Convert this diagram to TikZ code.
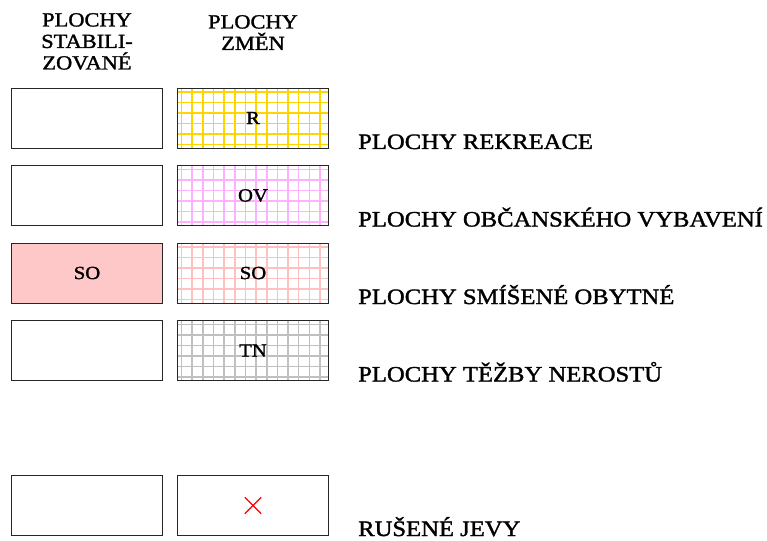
\documentclass[tikz,border=0pt]{standalone}
\usepackage{fontspec}
\setmainfont[FakeStretch=1.12, FakeBold=1.5]{Liberation Serif}
\usepackage{tikz}
\usetikzlibrary{positioning, shapes.misc}

\definecolor{rekreace}{RGB}{255,212,0}
\definecolor{vybaveni}{RGB}{255,176,255}
\definecolor{smisene}{RGB}{255,192,192}
\definecolor{tezba}{RGB}{192,192,192}
\definecolor{smiseneplna}{RGB}{255,200,200}

\begin{document}
\begin{tikzpicture}[
    x=1pt, y=-1pt,
    box/.style={draw=black!85, line width=0.9pt, rectangle, minimum width=151pt, minimum height=60pt, inner sep=0pt, font=\fontsize{18.5}{19}\selectfont},
    zmena/.style={box, path picture={
        \foreach \i in {0,...,14}
            \draw[#1, line width=1.6pt] ([xshift=\i*10.65pt+4pt]path picture bounding box.north west) -- ++(0pt,-70pt);
        \foreach \j in {0,...,5}
            \draw[#1, line width=1.6pt] ([yshift=-\j*10.5pt-4pt]path picture bounding box.north west) -- ++(160pt,0pt);
    }},
    legenda/.style={anchor=base west, inner sep=0pt, font=\fontsize{22}{24}\selectfont},
    hlavicka/.style={anchor=north, align=center, inner sep=0pt, font=\fontsize{20}{21.5}\selectfont}
]
    \useasboundingbox (0,0) rectangle (767,540);

    % Headers
    \node[hlavicka] (hstab) at (87,13) {PLOCHY\\STABILI-\\ZOVANÉ};
    \node[hlavicka] (hzmen) at (253,15) {PLOCHY\\ZMĚN};

    % Stabilized areas
    \node[box] (s1) at (87,118) {};
    \node[box] (s2) at (87,195.5) {};
    \node[box, fill=smiseneplna] (s3) at (87,273) {SO};
    \node[box] (s4) at (87,350.5) {};
    \node[box] (s5) at (87,505.5) {};

    % Areas of change
    \node[zmena=rekreace] (z1) at (253,118) {R};
    \node[zmena=vybaveni] (z2) at (253,195.5) {OV};
    \node[zmena=smisene] (z3) at (253,273) {SO};
    \node[zmena=tezba] (z4) at (253,350.5) {TN};
    \node[box] (z5) at (253,505.5) {};
    \node[cross out, draw=red, line width=1.3pt, minimum size=15pt, inner sep=0pt] (zrus) at (z5.center) {};

    % Legend
    \node[legenda] (l1) at (358,149) {PLOCHY REKREACE};
    \node[legenda] (l2) at (358,226.5) {PLOCHY OBČANSKÉHO VYBAVENÍ};
    \node[legenda] (l3) at (358,304) {PLOCHY SMÍŠENÉ OBYTNÉ};
    \node[legenda] (l4) at (358,381.5) {PLOCHY TĚŽBY NEROSTŮ};
    \node[legenda] (l5) at (358,536) {RUŠENÉ JEVY};
\end{tikzpicture}
\end{document}
